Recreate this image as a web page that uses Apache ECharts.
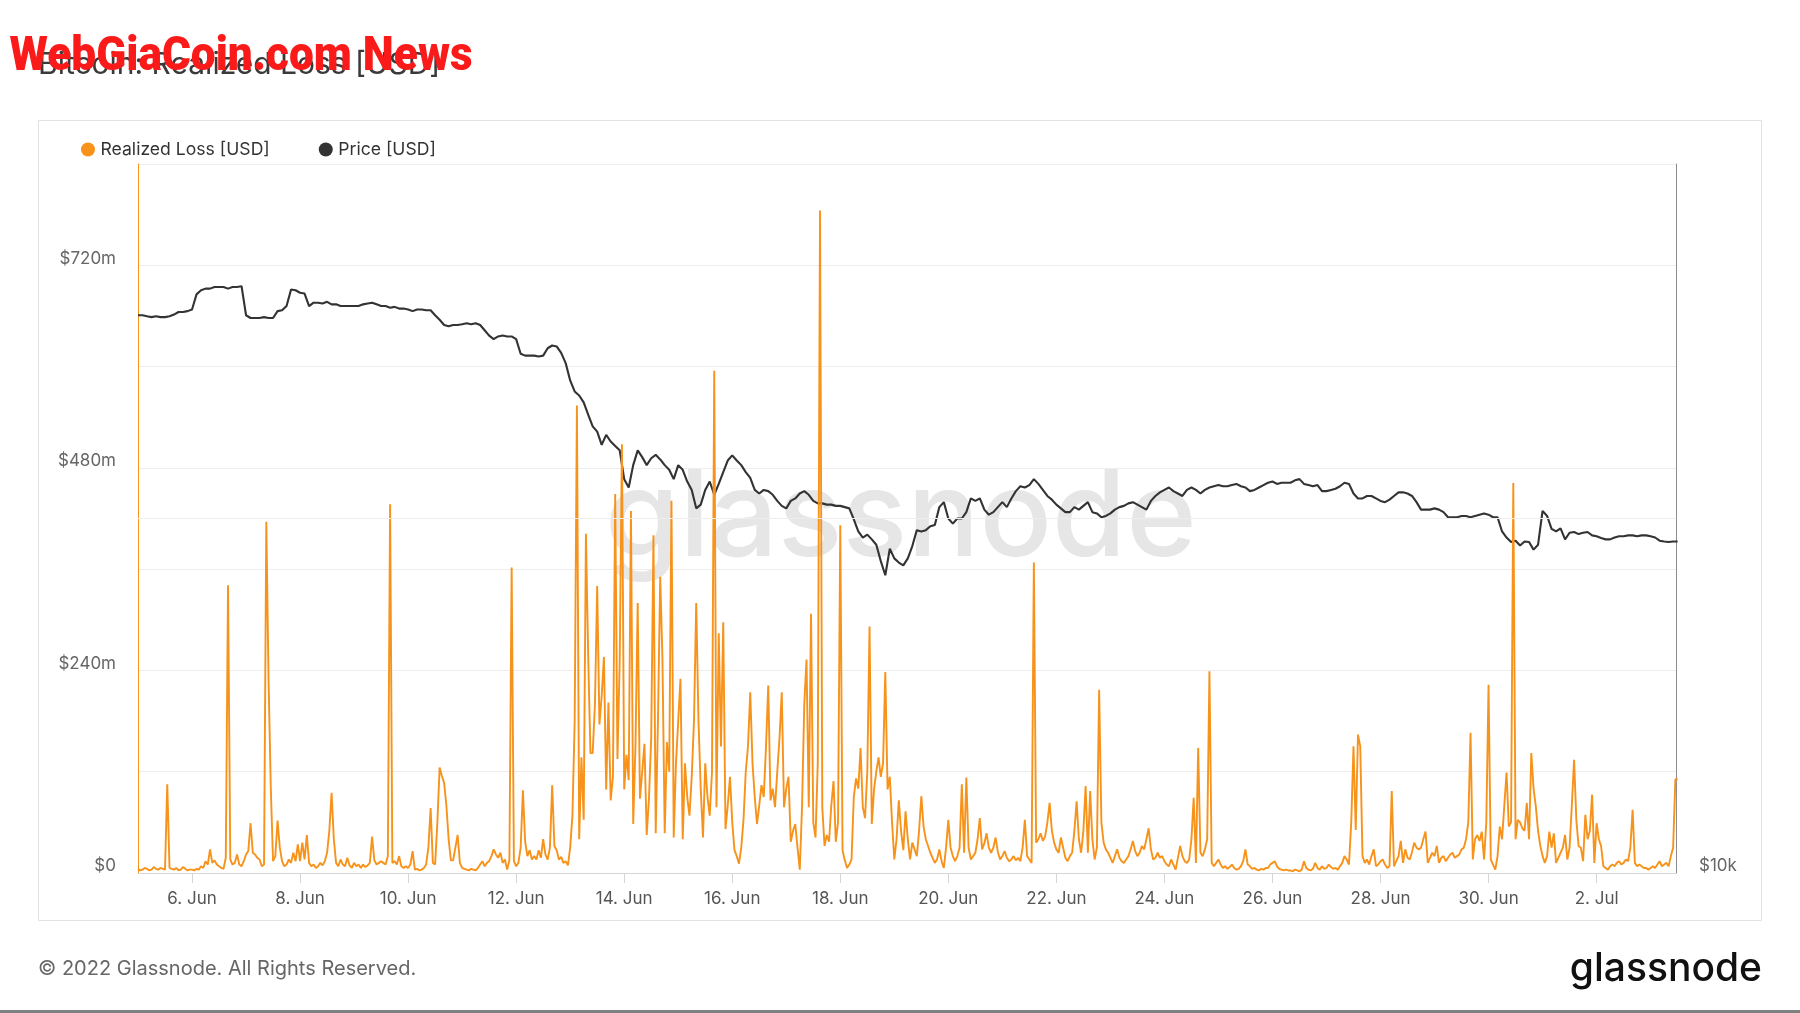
<!DOCTYPE html>
<html>
<head>
<meta charset="utf-8">
<script src="https://cdn.jsdelivr.net/npm/echarts@6/dist/echarts.min.js"></script>
<style>
html,body{margin:0;padding:0;background:#ffffff;}
#chart{width:1800px;height:1013px;}
</style>
</head>
<body>
<div id="chart"></div>
<script>
// ---------------- DATA ----------------
// x positions are "day numbers" counted from 31 May 2022 (5 = 5 Jun 00:00)
const xStartDay = 5;
const xEndDay = 33.47;
const xTickLabels = ['6. Jun','8. Jun','10. Jun','12. Jun','14. Jun','16. Jun','18. Jun','20. Jun','22. Jun','24. Jun','26. Jun','28. Jun','30. Jun','2. Jul'];
const xFirstTickDay = 6;
const yLeftTickLabels = ['$0','$240m','$480m','$720m'];   // every 240m
const yRightTickLabel = '$10k';

// Realized loss, USD millions, hourly (one row per day, from 5 Jun)
const realizedLossHourly = [
 /* 5 Jun */ [5,3,4,6,5,3,4,7,5,4,6,5,4,105,6,5,4,6,3,4,7,5,3,4],
 /* 6 Jun */ [4,3,5,4,8,6,14,10,28,12,15,10,8,6,5,18,341,16,10,12,22,10,8,14],
 /* 7 Jun */ [22,26,59,24,22,18,16,8,10,416,229,100,14,20,62,30,14,8,10,16,12,24,14,34],
 /* 8 Jun */ [14,36,16,45,12,8,10,6,8,12,9,14,24,50,95,40,12,8,16,10,8,18,9,6],
 /* 9 Jun */ [12,8,10,6,10,7,9,12,43,15,10,12,14,12,10,20,437,12,14,10,20,8,6,8],
 /*10 Jun */ [6,10,26,4,5,3,4,6,10,30,77,12,10,60,125,115,107,80,40,15,15,30,45,12],
 /*11 Jun */ [6,5,4,3,5,4,3,6,10,14,8,12,14,20,28,22,18,24,12,16,4,15,362,14],
 /*12 Jun */ [8,12,30,98,37,20,27,16,20,16,27,18,40,22,16,30,104,32,27,16,19,12,14,9],
 /*13 Jun */ [30,68,180,554,40,137,63,402,258,142,142,200,340,176,210,256,99,202,86,114,449,135,250,508],
 /*14 Jun */ [99,140,110,429,58,150,320,88,120,153,45,88,160,400,47,180,351,253,47,155,120,441,42,130],
 /*15 Jun */ [180,230,40,130,90,68,114,180,320,181,100,42,130,90,68,120,595,78,284,150,297,52,80,114],
 /*16 Jun */ [60,27,20,11,30,63,120,150,214,130,90,58,80,104,90,150,222,86,100,78,120,160,214,78],
 /*17 Jun */ [100,114,37,50,58,30,4,78,200,253,78,307,60,42,130,785,78,32,45,37,80,109,37,60],
 /*18 Jun */ [412,27,15,6,10,16,90,112,100,148,78,65,120,292,58,99,120,137,114,130,238,99,114,60],
 /*19 Jun */ [16,40,86,50,27,73,40,16,36,28,20,50,91,55,40,32,24,18,12,16,28,14,6,30],
 /*20 Jun */ [63,30,20,14,20,30,105,24,113,30,16,20,24,40,65,28,35,47,30,24,30,42,25,16],
 /*21 Jun */ [20,26,18,14,16,20,15,18,14,30,63,20,16,12,368,36,40,47,38,43,60,83,50,36],
 /*22 Jun */ [28,24,42,30,18,14,20,24,50,85,40,24,50,103,24,97,40,16,30,217,60,36,28,24],
 /*23 Jun */ [18,12,20,28,18,14,12,16,20,28,38,26,20,24,32,28,40,53,28,16,18,24,18,20],
 /*24 Jun */ [14,10,8,16,10,4,18,32,20,14,12,16,40,89,12,148,24,20,28,40,239,12,8,12],
 /*25 Jun */ [16,10,6,8,5,7,10,6,4,5,8,14,28,10,8,5,6,4,3,5,4,6,6,10],
 /*26 Jun */ [12,14,8,5,4,3,4,3,3,2,4,3,2,4,14,6,4,3,5,12,6,4,8,5],
 /*27 Jun */ [6,10,7,5,6,4,8,12,20,16,10,60,150,51,164,150,20,12,16,10,20,28,8,10],
 /*28 Jun */ [14,16,10,6,8,97,8,14,20,38,12,28,18,16,25,36,30,28,30,40,49,12,18,24],
 /*29 Jun */ [20,32,12,18,20,14,18,22,24,18,20,22,28,30,40,60,166,16,40,45,38,49,16,60],
 /*30 Jun */ [223,16,10,4,20,55,40,80,119,55,60,462,40,63,60,53,50,83,40,142,100,79,50,32],
 /* 1 Jul */ [20,12,20,49,30,47,12,18,24,30,45,16,30,80,134,63,32,30,14,69,40,50,93,12],
 /* 2 Jul */ [59,40,32,8,6,4,8,10,8,12,14,10,12,16,14,30,75,12,8,10,8,6,6,4],
 /* 3 Jul */ [6,8,6,10,14,8,10,12,8,20,30,111,111]
];

// BTC price, USD thousands, every 2 hours (one row per day, from 5 Jun)
const priceTwoHourly = [
 /* 5 Jun */ [29.76,29.76,29.7,29.65,29.7,29.65,29.65,29.7,29.8,29.95,29.95,30.0],
 /* 6 Jun */ [30.1,31.0,31.25,31.35,31.35,31.45,31.45,31.45,31.35,31.45,31.45,31.5],
 /* 7 Jun */ [29.76,29.6,29.6,29.6,29.65,29.6,29.6,30.0,30.05,30.3,31.3,31.25],
 /* 8 Jun */ [31.1,31.05,30.3,30.5,30.5,30.45,30.55,30.4,30.4,30.3,30.3,30.3],
 /* 9 Jun */ [30.3,30.3,30.4,30.45,30.5,30.4,30.3,30.3,30.2,30.25,30.15,30.15],
 /*10 Jun */ [30.1,30.0,30.1,30.1,30.05,30.05,29.76,29.5,29.2,29.13,29.2,29.2],
 /*11 Jun */ [29.24,29.3,29.24,29.3,29.2,28.9,28.6,28.4,28.55,28.6,28.55,28.55],
 /*12 Jun */ [28.4,27.6,27.5,27.5,27.5,27.45,27.5,27.9,28.05,28.0,27.65,27.1],
 /*13 Jun */ [26.2,25.64,25.44,25.1,24.5,23.95,23.7,23.1,23.55,23.25,23.05,22.85],
 /*14 Jun */ [21.6,21.25,22.2,22.85,22.55,22.2,22.5,22.65,22.45,22.2,22.0,21.6],
 /*15 Jun */ [22.2,22.0,21.5,21.15,20.4,20.55,21.15,21.5,20.95,21.4,21.9,22.4],
 /*16 Jun */ [22.63,22.4,22.2,21.9,21.65,21.15,21.0,21.15,21.1,20.95,20.7,20.5],
 /*17 Jun */ [20.4,20.7,20.8,21.0,21.1,20.95,20.7,20.6,20.6,20.55,20.55,20.5],
 /*18 Jun */ [20.5,20.45,20.4,19.97,19.5,19.27,19.38,19.2,19.0,18.4,17.9,18.85],
 /*19 Jun */ [18.5,18.35,18.25,18.5,18.95,19.55,19.5,19.55,19.7,19.75,20.45,20.65],
 /*20 Jun */ [20.0,19.8,20.0,20.0,20.25,20.8,20.7,20.8,20.35,20.15,20.25,20.45],
 /*21 Jun */ [20.65,20.45,20.8,21.1,21.3,21.25,21.35,21.6,21.4,21.15,20.9,20.75],
 /*22 Jun */ [20.55,20.4,20.25,20.25,20.45,20.35,20.5,20.65,20.25,20.2,20.05,20.1],
 /*23 Jun */ [20.2,20.35,20.45,20.5,20.6,20.65,20.55,20.45,20.35,20.7,20.9,21.05],
 /*24 Jun */ [21.15,21.25,21.1,21.0,20.9,21.15,21.25,21.15,21.0,21.15,21.25,21.3],
 /*25 Jun */ [21.35,21.3,21.3,21.35,21.4,21.3,21.25,21.1,21.15,21.25,21.35,21.45],
 /*26 Jun */ [21.5,21.4,21.45,21.45,21.45,21.55,21.6,21.4,21.35,21.3,21.35,21.1],
 /*27 Jun */ [21.1,21.15,21.2,21.3,21.45,21.4,21.0,20.8,20.8,20.9,20.9,20.8],
 /*28 Jun */ [20.7,20.65,20.75,20.9,21.05,21.05,21.0,20.9,20.65,20.35,20.35,20.35],
 /*29 Jun */ [20.4,20.35,20.25,20.05,20.05,20.05,20.1,20.1,20.05,20.1,20.15,20.2],
 /*30 Jun */ [20.15,20.05,20.05,19.5,19.27,19.1,19.15,18.97,19.12,19.1,18.82,19.0],
 /* 1 Jul */ [20.3,20.1,19.6,19.5,19.62,19.2,19.45,19.48,19.4,19.45,19.48,19.35],
 /* 2 Jul */ [19.32,19.25,19.2,19.2,19.27,19.32,19.32,19.35,19.35,19.32,19.35,19.35],
 /* 3 Jul */ [19.32,19.27,19.15,19.12,19.1,19.12,19.12]
];

const seriesNames = ['Realized Loss [USD]', 'Price [USD]'];

// ---------------- BUILD ----------------
const lossPoints = realizedLossHourly.flat().map((v, h) => [xStartDay + h / 24, v]);
const pricePoints = priceTwoHourly.flat().map((v, i) => [xStartDay + i / 12, v]);

const ORANGE = '#F7931A';
const DARK = '#333333';
const FONT = 'Inter, "Noto Sans", sans-serif';

const ctx = document.createElement('canvas').getContext('2d');
function measure(text, font) { ctx.font = font; return ctx.measureText(text).width; }

const wmText = 'WebGiaCoin.com News';
const wmFont = '900 49px Roboto';
const wmScaleX = 463 / measure(wmText, wmFont);

const gnText = 'glassnode';
const gnBase = measure(gnText, '500 100px Inter');
const gnSize = 100 * 592 / gnBase;

const chart = echarts.init(document.getElementById('chart'), null, { renderer: 'canvas' });

chart.setOption({
  animation: false,
  backgroundColor: '#ffffff',
  grid: { left: 138, right: 124, top: 164, bottom: 140, containLabel: false, outerBoundsMode: 'none' },
  legend: {
    left: 76, top: 134.5,
    itemWidth: 15, itemHeight: 14, itemGap: 49,
    icon: 'circle',
    selectedMode: false,
    data: seriesNames,
    textStyle: { fontFamily: FONT, fontSize: 17.6, color: '#333', lineHeight: 20 }
  },
  xAxis: {
    type: 'value',
    min: xStartDay, max: xEndDay,
    splitNumber: 14,
    axisLine: { show: true, lineStyle: { color: '#d6d6d6', width: 1 } },
    axisTick: { show: true, length: 10, lineStyle: { color: '#d6d6d6' } },
    splitLine: { show: false },
    axisLabel: {
      showMinLabel: false, showMaxLabel: false,
      margin: 15.5, lineHeight: 20,
      color: '#555', fontFamily: FONT, fontSize: 17,
      formatter: v => {
        const k = Math.round((v - xFirstTickDay) / 2);
        if (Math.abs(v - (xFirstTickDay + 2 * k)) > 1e-6) return '';
        return xTickLabels[k] || '';
      }
    }
  },
  yAxis: [
    {
      type: 'value', position: 'left',
      min: 0, max: 840, interval: 120,
      axisLine: { show: true, lineStyle: { color: ORANGE, width: 1 } },
      axisTick: { show: false },
      splitLine: { show: true, lineStyle: { color: '#ededed', width: 1 } },
      axisLabel: {
        margin: 22, verticalAlign: 'bottom', lineHeight: 13.5,
        color: '#666', fontFamily: FONT, fontSize: 17,
        formatter: v => {
          const k = Math.round(v / 240);
          if (Math.abs(v - 240 * k) > 1e-6) return '';
          return yLeftTickLabels[k] || '';
        }
      }
    },
    {
      type: 'log', logBase: 10, position: 'right',
      min: 10, max: 40,
      axisLine: { show: true, lineStyle: { color: '#8c8c8c', width: 1 } },
      axisTick: { show: false },
      splitLine: { show: false },
      axisLabel: {
        margin: 23, verticalAlign: 'bottom', lineHeight: 14,
        color: '#666', fontFamily: FONT, fontSize: 17,
        formatter: v => (Math.abs(v - 10) < 1e-6 ? yRightTickLabel : '')
      }
    }
  ],
  series: [
    {
      name: seriesNames[0], type: 'line',
      xAxisIndex: 0, yAxisIndex: 0,
      data: lossPoints,
      showSymbol: false, symbol: 'none',
      z: 4,
      lineStyle: { color: ORANGE, width: 1.9 },
      itemStyle: { color: ORANGE }
    },
    {
      name: seriesNames[1], type: 'line',
      xAxisIndex: 0, yAxisIndex: 1,
      data: pricePoints,
      showSymbol: false, symbol: 'none',
      z: 3,
      lineStyle: { color: DARK, width: 2.1 },
      itemStyle: { color: DARK },
      markLine: {
        silent: true, symbol: ['none', 'none'], animation: false,
        label: { show: false },
        lineStyle: { color: '#ededed', type: 'solid', width: 1 },
        data: [{ yAxis: 20 }]
      }
    }
  ],
  graphic: [
    { type: 'rect', z: 0, silent: true,
      shape: { x: 38.5, y: 120.5, width: 1723, height: 800 },
      style: { fill: 'none', stroke: '#e2e2e2', lineWidth: 1 } },
    { type: 'text', z: 1, silent: true, x: 605, y: 520,
      style: { text: gnText, font: '500 ' + gnSize.toFixed(1) + 'px Inter', fill: '#e6e6e6',
               textAlign: 'left', textVerticalAlign: 'middle', align: 'left', verticalAlign: 'middle' } },
    { type: 'text', z: 10, silent: true, x: 38, y: 64.7,
      style: { text: 'Bitcoin: Realized Loss [USD]', font: '400 30px Inter', fill: '#3a3a3a',
               textAlign: 'left', textVerticalAlign: 'middle', align: 'left', verticalAlign: 'middle' } },
    { type: 'text', z: 11, silent: true, x: 9.6, y: 58, scaleX: wmScaleX, scaleY: 1,
      style: { text: wmText, font: wmFont, fill: '#fb1a1a',
               textAlign: 'left', textVerticalAlign: 'middle', align: 'left', verticalAlign: 'middle' } },
    { type: 'text', z: 10, silent: true, x: 38, y: 969,
      style: { text: '\u00A9 2022 Glassnode. All Rights Reserved.', font: '400 20px Inter', fill: '#666',
               textAlign: 'left', textVerticalAlign: 'middle', align: 'left', verticalAlign: 'middle' } },
    { type: 'text', z: 10, silent: true, x: 1762, y: 969.5,
      style: { text: 'glassnode', font: '500 39px Inter', fill: '#111',
               textAlign: 'right', textVerticalAlign: 'middle', align: 'right', verticalAlign: 'middle' } },
    { type: 'rect', z: 10, silent: true,
      shape: { x: 0, y: 1010, width: 1800, height: 3 },
      style: { fill: '#808080' } }
  ]
});
</script>
</body>
</html>
